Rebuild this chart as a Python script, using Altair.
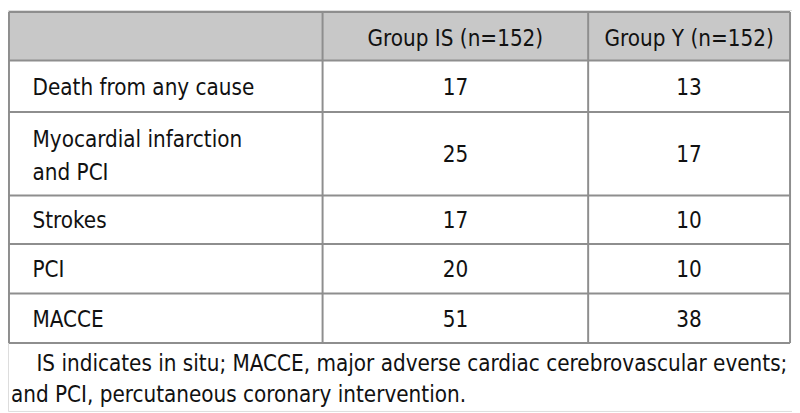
import altair as alt
import pandas as pd

# ---- data ----
col_headers = ["Group IS (n=152)", "Group Y (n=152)"]
row_labels = ["Death from any cause", "Myocardial infarction\nand PCI", "Strokes", "PCI", "MACCE"]
group_is = [17, 25, 17, 20, 51]
group_y = [13, 17, 10, 10, 38]
footnote = ["IS indicates in situ; MACCE, major adverse cardiac cerebrovascular events;",
            "and PCI, percutaneous coronary intervention."]

# ---- layout (reference pixel units) ----
W, H = 800, 413
COL_EDGES = [1, 321, 592, 798]
ROW_EDGES = [2, 52, 105, 191, 241, 292, 343]
FONT = "DejaVu Sans Condensed, sans-serif"
FS = 22.5
LINE = "#8e8e8e"
HEADER_BG = "#c8c8c8"

xs = alt.Scale(domain=[0, W], nice=False, zero=False)
ys = alt.Scale(domain=[H, 0], nice=False, zero=False)

# header background
bg = pd.DataFrame({"x": [COL_EDGES[0]], "x2": [COL_EDGES[-1]], "y": [ROW_EDGES[0]], "y2": [ROW_EDGES[1]]})
bg_layer = alt.Chart(bg).mark_rect(color=HEADER_BG).encode(
    x=alt.X("x:Q", scale=xs, axis=None), x2="x2:Q",
    y=alt.Y("y:Q", scale=ys, axis=None), y2="y2:Q")

# grid lines
hl = pd.DataFrame({"x": [COL_EDGES[0]] * len(ROW_EDGES), "x2": [COL_EDGES[-1]] * len(ROW_EDGES), "y": ROW_EDGES})
h_layer = alt.Chart(hl).mark_rule(color=LINE, strokeWidth=2).encode(
    x=alt.X("x:Q", scale=xs, axis=None), x2="x2:Q", y=alt.Y("y:Q", scale=ys, axis=None))
vl = pd.DataFrame({"x": COL_EDGES, "y": [ROW_EDGES[0]] * len(COL_EDGES), "y2": [ROW_EDGES[-1]] * len(COL_EDGES)})
v_layer = alt.Chart(vl).mark_rule(color=LINE, strokeWidth=2).encode(
    x=alt.X("x:Q", scale=xs, axis=None), y=alt.Y("y:Q", scale=ys, axis=None), y2="y2:Q")

# text cells
mids = [(ROW_EDGES[i] + ROW_EDGES[i + 1]) / 2 for i in range(len(ROW_EDGES) - 1)]
ccent = [(COL_EDGES[i] + COL_EDGES[i + 1]) / 2 for i in range(len(COL_EDGES) - 1)]

centered = []
for j, h in enumerate(col_headers):
    centered.append({"x": ccent[j + 1], "y": mids[0] + 10, "t": h})
for i in range(len(row_labels)):
    centered.append({"x": ccent[1], "y": mids[i + 1] + 9, "t": str(group_is[i])})
    centered.append({"x": ccent[2], "y": mids[i + 1] + 9, "t": str(group_y[i])})
cen_layer = alt.Chart(pd.DataFrame(centered)).mark_text(
    font=FONT, fontSize=FS, align="center", baseline="alphabetic", color="#111111").encode(
    x=alt.X("x:Q", scale=xs, axis=None), y=alt.Y("y:Q", scale=ys, axis=None), text="t:N")

left = []
for i, lab in enumerate(row_labels):
    nlines = lab.count("\n") + 1
    left.append({"x": 25, "y": mids[i + 1] + 9 - (nlines - 1) * 16, "t": lab})
lab_layer = alt.Chart(pd.DataFrame(left)).mark_text(
    font=FONT, fontSize=FS, align="left", baseline="alphabetic", lineBreak="\n", lineHeight=33,
    color="#111111").encode(
    x=alt.X("x:Q", scale=xs, axis=None), y=alt.Y("y:Q", scale=ys, axis=None), text="t:N")

foot = pd.DataFrame({"x": [29, 3], "y": [372, 404], "t": footnote})
foot_layer = alt.Chart(foot).mark_text(
    font=FONT, fontSize=FS, align="left", baseline="alphabetic", color="#111111").encode(
    x=alt.X("x:Q", scale=xs, axis=None), y=alt.Y("y:Q", scale=ys, axis=None), text="t:N")

chart = alt.layer(bg_layer, h_layer, v_layer, cen_layer, lab_layer, foot_layer).properties(
    width=792, height=405, padding=0,
    autosize=alt.AutoSizeParams(type="none"),
).configure_view(strokeWidth=0).configure(background="white")

chart.save("out.html", embed_options={"renderer": "svg", "actions": False})
